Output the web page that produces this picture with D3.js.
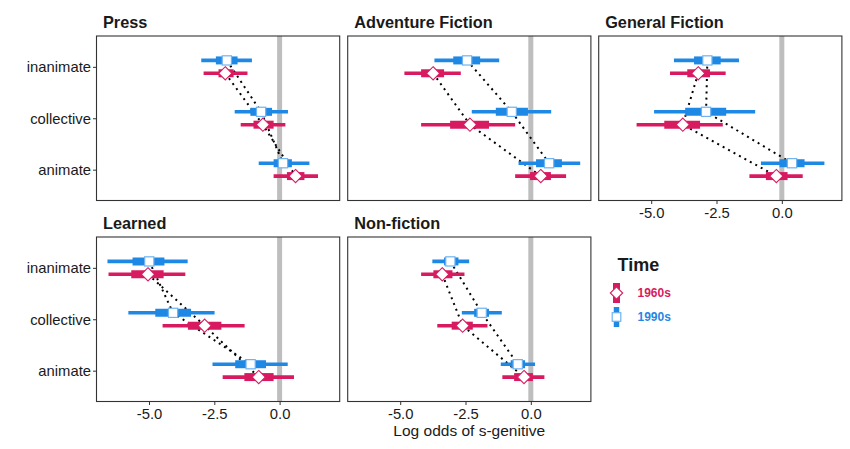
<!DOCTYPE html>
<html><head><meta charset="utf-8">
<script src="https://cdn.jsdelivr.net/npm/d3@7"></script>
<style>body{margin:0;background:#fff}svg{display:block}text{font-family:"Liberation Sans",Arial,sans-serif}</style>
</head><body><svg id="c" width="850" height="449"></svg>
<script>
const genres = ["Press","Adventure Fiction","General Fiction","Learned","Non-fiction"];
const categories = ["inanimate","collective","animate"];
const times = ["1960s","1990s"];
const xTicks = [-5.0,-2.5,0.0];
// 1960s: estimate, inner (thick) interval, outer (thin) interval; per genre, per category
const est1960 = [[-2.08,-0.64,0.61],[-3.74,-2.33,0.38],[-3.20,-3.79,-0.21],[-5.04,-2.87,-0.80],[-3.39,-2.61,-0.26]];
const in1960Lo = [[-2.34,-1.00,0.28],[-4.20,-3.09,-0.03],[-3.62,-4.50,-0.61],[-5.68,-3.51,-1.35],[-3.73,-3.03,-0.64]];
const in1960Hi = [[-1.76,-0.23,0.95],[-3.32,-1.60,0.77],[-2.75,-3.13,0.22],[-4.44,-2.23,-0.23],[-3.00,-2.22,0.08]];
const out1960Lo = [[-2.91,-1.49,-0.23],[-4.84,-4.20,-0.60],[-4.28,-5.56,-1.24],[-6.55,-4.48,-2.18],[-4.20,-3.58,-1.09]];
const out1960Hi = [[-1.23,0.22,1.47],[-2.68,-0.60,1.35],[-2.15,-2.26,0.80],[-3.61,-1.34,0.55],[-2.54,-1.66,0.52]];
// 1990s
const est1990 = [[-2.02,-0.71,0.13],[-2.44,-0.73,0.70],[-2.85,-2.90,0.39],[-4.99,-4.08,-1.11],[-3.08,-1.88,-0.50]];
const in1990Lo = [[-2.44,-1.12,-0.23],[-2.97,-1.34,0.20],[-3.36,-3.70,-0.09],[-5.63,-4.76,-1.70],[-3.32,-2.17,-0.77]];
const in1990Hi = [[-1.61,-0.29,0.47],[-1.94,-0.11,1.19],[-2.34,-2.13,0.87],[-4.41,-3.39,-0.52],[-2.77,-1.60,-0.22]];
const out1990Lo = [[-3.00,-1.72,-0.80],[-3.69,-2.26,-0.47],[-4.13,-4.89,-0.80],[-6.59,-5.79,-2.57],[-3.77,-2.64,-1.15]];
const out1990Hi = [[-1.06,0.32,1.14],[-1.21,0.78,1.89],[-1.64,-1.02,1.63],[-3.52,-2.49,0.31],[-2.36,-1.11,0.16]];

const series = [
  {time:"1960s", color:"#D81B60", shape:"diamond", dodge:0.125, est:est1960, inLo:in1960Lo, inHi:in1960Hi, outLo:out1960Lo, outHi:out1960Hi},
  {time:"1990s", color:"#1E88E5", shape:"square", dodge:-0.125, est:est1990, inLo:in1990Lo, inHi:in1990Hi, outLo:out1990Lo, outHi:out1990Hi}
];

const svg = d3.select("#c");
const W = 243.2, H = 164.5;
const colX = [96.5, 347.7, 598.7], rowY = [36, 237];
const panelPos = [[0,0],[1,0],[2,0],[0,1],[1,1]];
const x = d3.scaleLinear().domain([-7.01, 2.30]).range([0, W]);
const y = d3.scalePoint().domain(categories).range([0, H]).padding(0.6);
const step = y.step();
const ink = "#1a1a1a";

genres.forEach((g, gi) => {
  const [c, r] = panelPos[gi];
  const p = svg.append("g").attr("transform", `translate(${colX[c]},${rowY[r]})`);
  p.append("rect").attr("width", W).attr("height", H).attr("fill", "#fff");
  p.append("line").attr("x1", x(0)).attr("x2", x(0)).attr("y1", 0).attr("y2", H)
    .attr("stroke", "#bebebe").attr("stroke-width", 5);
  // dotted connecting lines
  series.forEach(s => {
    const pts = categories.map((cat, ci) => [x(s.est[gi][ci]), y(cat) + s.dodge * step]);
    p.append("path").attr("d", d3.line()(pts)).attr("fill", "none")
      .attr("stroke", "#000").attr("stroke-width", 2).attr("stroke-dasharray", "2,4.2");
  });
  series.forEach(s => {
    categories.forEach((cat, ci) => {
      const yy = y(cat) + s.dodge * step;
      p.append("line").attr("x1", x(s.outLo[gi][ci])).attr("x2", x(s.outHi[gi][ci]))
        .attr("y1", yy).attr("y2", yy).attr("stroke", s.color).attr("stroke-width", 3.6);
      p.append("line").attr("x1", x(s.inLo[gi][ci])).attr("x2", x(s.inHi[gi][ci]))
        .attr("y1", yy).attr("y2", yy).attr("stroke", s.color).attr("stroke-width", 8);
      const cx = x(s.est[gi][ci]);
      if (s.shape === "square") {
        p.append("rect").attr("x", cx - 4.6).attr("y", yy - 4.6).attr("width", 9.2).attr("height", 9.2)
          .attr("fill", "#fff").attr("stroke", "#6fb3f0").attr("stroke-width", 1.2);
      } else {
        p.append("path").attr("d", `M${cx},${yy-6.6}L${cx+6.6},${yy}L${cx},${yy+6.6}L${cx-6.6},${yy}Z`)
          .attr("fill", "#fff").attr("stroke", s.color).attr("stroke-width", 1.1);
      }
    });
  });
  p.append("rect").attr("width", W).attr("height", H).attr("fill", "none")
    .attr("stroke", "#333").attr("stroke-width", 1.1);
  p.append("text").attr("x", 6.5).attr("y", -7.6).text(g)
    .attr("font-size", 16.3).attr("font-weight", "bold").attr("fill", ink);
  if (c === 0) {
    const ay = p.append("g").call(d3.axisLeft(y).tickSize(3.5).tickPadding(2));
    ay.select(".domain").remove();
    ay.selectAll("line").attr("stroke", "#333");
    ay.selectAll("text").attr("font-size", 14.8).attr("fill", ink)
      .attr("font-family", '"Liberation Sans",Arial,sans-serif');
  }
  if (gi >= 2) {
    const ax = p.append("g").attr("transform", `translate(0,${H})`)
      .call(d3.axisBottom(x).tickValues(xTicks).tickFormat(d3.format(".1f")).tickSize(3.5).tickPadding(3));
    ax.select(".domain").remove();
    ax.selectAll("line").attr("stroke", "#333");
    ax.selectAll("text").attr("font-size", 14.8).attr("fill", ink)
      .attr("font-family", '"Liberation Sans",Arial,sans-serif')
      .text(d => d3.format(".1f")(d).replace("−", "-"));
  }
});

svg.append("text").attr("x", (colX[0] + colX[2] + W) / 2).attr("y", 436)
  .attr("text-anchor", "middle").attr("font-size", 15.5).attr("fill", ink).text("Log odds of s-genitive");

// legend
const lg = svg.append("g");
lg.append("text").attr("x", 617.5).attr("y", 271).text("Time")
  .attr("font-size", 18).attr("font-weight", "bold").attr("fill", ink);
const legendY = {"1960s": 293, "1990s": 317};
series.forEach(s => {
  const ky = legendY[s.time], kx = 616.5;
  lg.append("line").attr("x1", kx).attr("x2", kx).attr("y1", ky - 10).attr("y2", ky + 10)
    .attr("stroke", s.color).attr("stroke-width", s.shape === "square" ? 5.5 : 7);
  if (s.shape === "square") {
    lg.append("rect").attr("x", kx - 4.3).attr("y", ky - 4.3).attr("width", 8.6).attr("height", 8.6)
      .attr("fill", "#fff").attr("stroke", "#6fb3f0").attr("stroke-width", 1.2);
  } else {
    lg.append("path").attr("d", `M${kx},${ky-6.2}L${kx+6.2},${ky}L${kx},${ky+6.2}L${kx-6.2},${ky}Z`)
      .attr("fill", "#fff").attr("stroke", s.color).attr("stroke-width", 1.1);
  }
  lg.append("text").attr("x", 637.5).attr("y", ky + 4.2).text(s.time)
    .attr("font-size", 12).attr("font-weight", "bold").attr("fill", s.color);
});
</script></body></html>
